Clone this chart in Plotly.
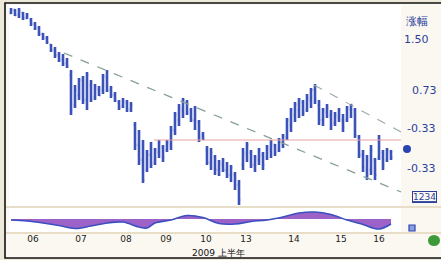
import plotly.graph_objects as go

# ---------------- data ----------------
bar_idx = list(range(96))
high = [11.94, 11.92, 11.94, 11.86, 11.84, 11.74, 11.66, 11.58, 11.44, 11.38,
        11.22, 11.16, 11.06, 11.02, 10.94, 10.70, 10.40, 10.54, 10.58, 10.66,
        10.50, 10.42, 10.38, 10.62, 10.70, 10.38, 10.26, 10.10, 10.14, 10.10,
        10.06, 9.66, 9.50, 9.30, 9.10, 9.26, 9.14, 9.30, 9.20, 9.30,
        9.58, 9.86, 10.02, 10.14, 10.10, 9.94, 9.98, 9.70, 9.46, 9.18,
        9.14, 9.00, 8.90, 8.94, 8.86, 8.80, 8.66, 8.50, 9.14, 9.26,
        9.10, 9.00, 9.14, 9.06, 9.20, 9.30, 9.22, 9.34, 9.42, 9.74,
        9.94, 10.06, 10.14, 10.10, 10.22, 10.34, 10.42, 10.10, 9.94, 10.02,
        9.90, 9.86, 9.94, 9.82, 9.98, 10.02, 9.94, 9.40, 9.10, 9.00,
        9.20, 8.94, 9.40, 9.10, 9.14, 9.10]
low = [11.82, 11.78, 11.74, 11.70, 11.72, 11.58, 11.50, 11.38, 11.30, 11.22,
       11.06, 10.94, 10.86, 10.78, 10.74, 9.80, 9.94, 10.10, 10.02, 9.90,
       10.06, 10.10, 10.18, 10.22, 10.26, 10.14, 10.06, 9.90, 9.94, 9.86,
       9.86, 9.10, 8.80, 8.44, 8.66, 8.74, 8.80, 8.94, 8.86, 9.06,
       9.10, 9.40, 9.58, 9.74, 9.80, 9.66, 9.50, 9.26, 9.30, 8.80,
       8.70, 8.60, 8.58, 8.66, 8.54, 8.46, 8.30, 8.00, 8.70, 8.86,
       8.74, 8.66, 8.80, 8.70, 8.90, 8.94, 8.98, 9.06, 9.14, 9.30,
       9.46, 9.66, 9.74, 9.78, 9.86, 9.94, 10.02, 9.60, 9.58, 9.74,
       9.50, 9.58, 9.66, 9.46, 9.66, 9.74, 9.34, 8.94, 8.66, 8.50,
       8.60, 8.50, 8.90, 8.70, 8.86, 8.90]
open_ = [11.84, 11.90, 11.80, 11.84, 11.74, 11.70, 11.62, 11.54, 11.42, 11.34,
         11.20, 11.10, 11.00, 10.92, 10.84, 10.60, 10.00, 10.20, 10.50, 10.10,
         10.40, 10.15, 10.30, 10.30, 10.55, 10.30, 10.20, 10.05, 9.98, 10.05,
         9.92, 9.60, 9.20, 8.90, 8.70, 9.00, 8.85, 9.05, 9.15, 9.10,
         9.20, 9.50, 9.70, 9.90, 10.05, 9.90, 9.70, 9.65, 9.40, 9.10,
         8.85, 8.95, 8.70, 8.80, 8.70, 8.60, 8.60, 8.40, 8.80, 9.00,
         9.05, 8.80, 8.90, 9.00, 8.95, 9.10, 9.20, 9.10, 9.20, 9.35,
         9.60, 9.80, 9.90, 10.05, 9.90, 10.10, 10.30, 10.00, 9.70, 9.85,
         9.80, 9.65, 9.75, 9.70, 9.70, 9.90, 9.90, 9.35, 9.00, 8.70,
         8.70, 8.90, 8.95, 9.05, 8.90, 9.05]
close = [11.90, 11.80, 11.88, 11.74, 11.80, 11.62, 11.54, 11.42, 11.34, 11.26,
         11.10, 11.00, 10.90, 10.82, 10.78, 9.90, 10.30, 10.50, 10.10, 10.60,
         10.10, 10.35, 10.20, 10.58, 10.30, 10.20, 10.10, 9.95, 10.10, 9.90,
         10.00, 9.20, 8.90, 8.50, 9.00, 8.80, 9.10, 9.25, 8.95, 9.25,
         9.50, 9.80, 9.95, 10.10, 9.85, 9.70, 9.95, 9.35, 9.32, 8.85,
         9.05, 8.70, 8.85, 8.70, 8.60, 8.75, 8.40, 8.10, 9.05, 9.20,
         8.80, 8.95, 9.10, 8.80, 9.15, 9.25, 9.05, 9.30, 9.38, 9.70,
         9.90, 10.00, 10.10, 9.85, 10.15, 10.30, 10.10, 9.70, 9.90, 9.95,
         9.60, 9.80, 9.90, 9.55, 9.95, 10.00, 9.40, 9.00, 8.75, 8.60,
         9.10, 8.60, 9.30, 8.80, 9.10, 8.95]

# trend lines (bar index, price)
trend_long_x = [13.25, 97.5]
trend_long_y = [11.04, 8.26]
trend_upper_x = [75.75, 97.5]
trend_upper_y = [10.40, 9.46]
support_x = [35.75, 97.5]
support_y = [9.30, 9.30]

# lower indicator
ind_x = [0, 4, 8, 12, 16, 20, 24, 28, 32, 34, 36, 40, 44, 48, 52, 56, 60,
         64, 68, 72, 76, 80, 84, 88, 92, 95]
ind_y = [-0.1, -0.2, -0.4, -0.65, -0.95, -0.7, -0.4, -0.3, -0.8, -0.9, -0.4,
         -0.1, 0.35, 0.15, -0.45, -0.5, -0.25, -0.1, 0.2, 0.6, 0.7, 0.45,
         -0.1, -0.55, -1.0, -0.5]

tick_pos = [5.5, 17.5, 28.75, 38.75, 48.75, 58.75, 70.75, 82.5, 92]
tick_labels = ["06", "07", "08", "09", "10", "13", "14", "15", "16"]

side_labels = ["涨幅", "1.50", "0.73", "-0.33", "-0.33"]
side_label_px = [(417, 21), (416, 39), (424, 90), (421, 128), (421, 168)]

# ---------------- figure ----------------
W, H = 441, 260
BLUE = "#2b44b4"

def px(x):
    return x / W

def py(y):
    return 1 - y / H

fig = go.Figure()

fig.add_trace(go.Ohlc(
    x=bar_idx, open=open_, high=high, low=low, close=close,
    increasing=dict(line=dict(color=BLUE, width=2.6)),
    decreasing=dict(line=dict(color=BLUE, width=2.6)),
    tickwidth=0.35, opacity=0.92, showlegend=False,
    xaxis="x", yaxis="y", hoverinfo="skip"))

fig.add_trace(go.Scatter(x=trend_long_x, y=trend_long_y, mode="lines",
                         line=dict(color="#86a095", width=1.3, dash="dash"),
                         showlegend=False, hoverinfo="skip"))
fig.add_trace(go.Scatter(x=trend_upper_x, y=trend_upper_y, mode="lines",
                         line=dict(color="#9aaaa4", width=1.1, dash="dash"),
                         showlegend=False, hoverinfo="skip"))
fig.add_trace(go.Scatter(x=support_x, y=support_y, mode="lines",
                         line=dict(color="#e8a0a0", width=1),
                         showlegend=False, hoverinfo="skip"))

fig.add_trace(go.Scatter(x=ind_x, y=ind_y, mode="lines", fill="tozeroy",
                         fillcolor="#9c62c8", line=dict(color="#3a4fc0", width=1.6,
                                                        shape="spline"),
                         xaxis="x2", yaxis="y2", showlegend=False, hoverinfo="skip"))

shapes = [
    # frame
    dict(type="rect", xref="paper", yref="paper", x0=px(5), x1=px(445),
         y0=py(258), y1=py(3), line=dict(color="#111111", width=1.6),
         fillcolor="#faf8f1", layer="below"),
    # main white plot region
    dict(type="rect", xref="paper", yref="paper", x0=px(9), x1=px(401),
         y0=py(206), y1=py(5), line=dict(width=0), fillcolor="#ffffff", layer="below"),
    # indicator area
    dict(type="rect", xref="paper", yref="paper", x0=px(9), x1=px(401),
         y0=py(232), y1=py(208), line=dict(width=0), fillcolor="#ffffff", layer="below"),
    # separators
    dict(type="line", xref="paper", yref="paper", x0=px(6), x1=px(441),
         y0=py(207), y1=py(207), line=dict(color="#e2d6ba", width=1.5)),
    dict(type="line", xref="paper", yref="paper", x0=px(6), x1=px(441),
         y0=py(233), y1=py(233), line=dict(color="#e2d6ba", width=1.5)),
    # side markers
    dict(type="circle", xref="paper", yref="paper", x0=px(403), x1=px(411),
         y0=py(153), y1=py(145), line=dict(width=0), fillcolor="#2b44b4"),
    dict(type="rect", xref="paper", yref="paper", x0=px(409), x1=px(415),
         y0=py(231), y1=py(225), line=dict(color="#2b44b4", width=1.2),
         fillcolor="#8aa0e0"),
    dict(type="circle", xref="paper", yref="paper", x0=px(428), x1=px(440),
         y0=py(246), y1=py(235), line=dict(width=0), fillcolor="#3c9a3a"),
]

annotations = []
for t, (ax_, ay_) in zip(side_labels, side_label_px):
    annotations.append(dict(text=t, xref="paper", yref="paper", x=px(ax_), y=py(ay_),
                            showarrow=False, xanchor="center", yanchor="middle",
                            font=dict(family="DejaVu Sans", size=11, color="#2b3f9c")))
annotations.append(dict(text="<u>1234</u>", xref="paper", yref="paper",
                        x=px(424), y=py(197), showarrow=False,
                        xanchor="center", yanchor="middle",
                        font=dict(family="DejaVu Sans", size=9, color="#2b3f9c"),
                        bordercolor="#2b3f9c", borderwidth=1, borderpad=0))
annotations.append(dict(text="2009 上半年", xref="paper", yref="paper",
                        x=px(218), y=py(253), showarrow=False,
                        xanchor="center", yanchor="middle",
                        font=dict(family="DejaVu Sans", size=9, color="#111111")))

fig.update_layout(
    width=W, height=H, margin=dict(l=0, r=0, t=0, b=0),
    paper_bgcolor="#eee8d8", plot_bgcolor="rgba(0,0,0,0)",
    shapes=shapes, annotations=annotations,
    xaxis=dict(domain=[px(9), px(401)], range=[-0.5, 97.5], visible=False,
               rangeslider=dict(visible=False), anchor="y"),
    yaxis=dict(domain=[py(206), py(5)], range=[7.98, 12.0], visible=False,
               anchor="x"),
    xaxis2=dict(domain=[px(9), px(401)], range=[-0.5, 97.5], anchor="y2",
                tickmode="array", tickvals=tick_pos, ticktext=tick_labels,
                showgrid=False, zeroline=False, showline=False, ticks="",
                tickfont=dict(family="DejaVu Sans", size=9, color="#222222")),
    yaxis2=dict(domain=[py(232), py(208)], range=[-1.3, 1.1], visible=False,
                anchor="x2"),
)

fig.write_html(
    "out.html",
    config={"displayModeBar": False},
    post_script="document.body.style.margin='0';document.body.style.overflow='hidden';"
                "document.body.style.background='#eee8d8';",
)
